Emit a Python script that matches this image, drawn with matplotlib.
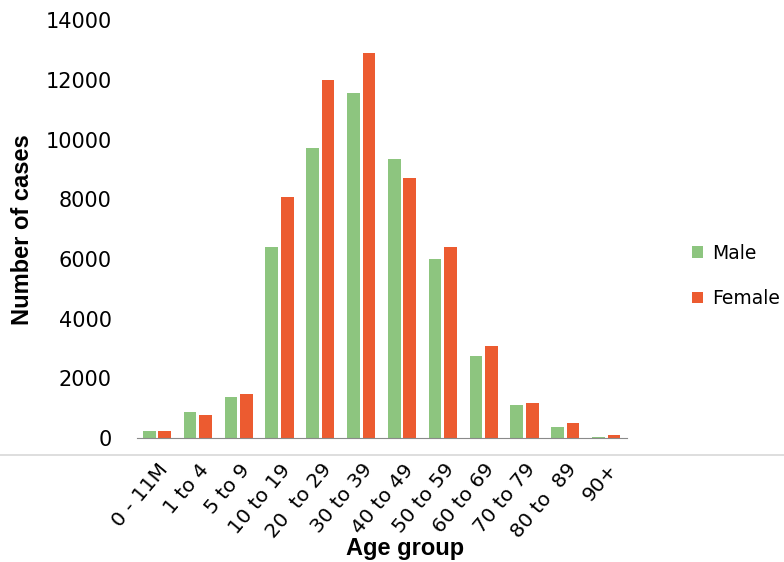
import numpy as np
import matplotlib.pyplot as plt
from matplotlib.lines import Line2D

# Age groups and case counts
age_groups = ['0 - 11M', '1 to 4', '5 to 9', '10 to 19', '20  to 29', '30 to 39',
              '40 to 49', '50 to 59', '60 to 69', '70 to 79', '80 to  89', '90+']
male = [250, 870, 1370, 6400, 9710, 11550, 9340, 5990, 2750, 1100, 370, 30]
female = [250, 780, 1470, 8070, 11990, 12890, 8710, 6400, 3080, 1170, 500, 100]
y_ticks = [0, 2000, 4000, 6000, 8000, 10000, 12000, 14000]

plt.rcParams['font.family'] = ['DejaVu Sans']

fig = plt.figure(figsize=(7.84, 5.62), dpi=100)
ax = fig.add_axes([137 / 784, 0.2206, 490 / 784, 0.7434])

x = np.arange(len(age_groups))
w = 0.31
ax.bar(x - 0.2, male, width=w, color='#8dc57f', label='Male')
ax.bar(x + 0.18, female, width=w, color='#ec5b30', label='Female')

ax.set_xlim(-0.5, len(age_groups) - 0.5)
ax.set_ylim(0, 14000)
ax.set_yticks(y_ticks)
ax.tick_params(axis='y', labelsize=15, length=0, pad=18)
ax.set_xticks(x)
ax.set_xticklabels(age_groups, rotation=50, ha='right', rotation_mode='anchor',
                   fontsize=14.5)
ax.tick_params(axis='x', length=0, pad=16)

for side in ['top', 'right', 'left']:
    ax.spines[side].set_visible(False)
ax.spines['bottom'].set_color('#8a8a8a')

ax.set_ylabel('Number of cases', fontsize=17, fontweight='bold',
              family=['Liberation Sans Narrow', 'Liberation Sans'])
ax.yaxis.set_label_coords(-0.21, 0.498)
ax.set_xlabel('Age group', fontsize=17, fontweight='bold',
              family=['Liberation Sans Narrow', 'Liberation Sans'])
ax.xaxis.set_label_coords(0.548, -0.238)

fig.legend(loc='center left', bbox_to_anchor=(0.861, 0.509), frameon=False,
           fontsize=13.5, handlelength=0.6, handleheight=0.6, handletextpad=0.5,
           labelspacing=1.4)

# faint horizontal scan line across the page
fig.add_artist(Line2D([0, 1], [1 - 455 / 562, 1 - 455 / 562],
                      transform=fig.transFigure, color='#d8d8d8', lw=1.2,
                      zorder=0))

fig.savefig('out.png', dpi=100)
